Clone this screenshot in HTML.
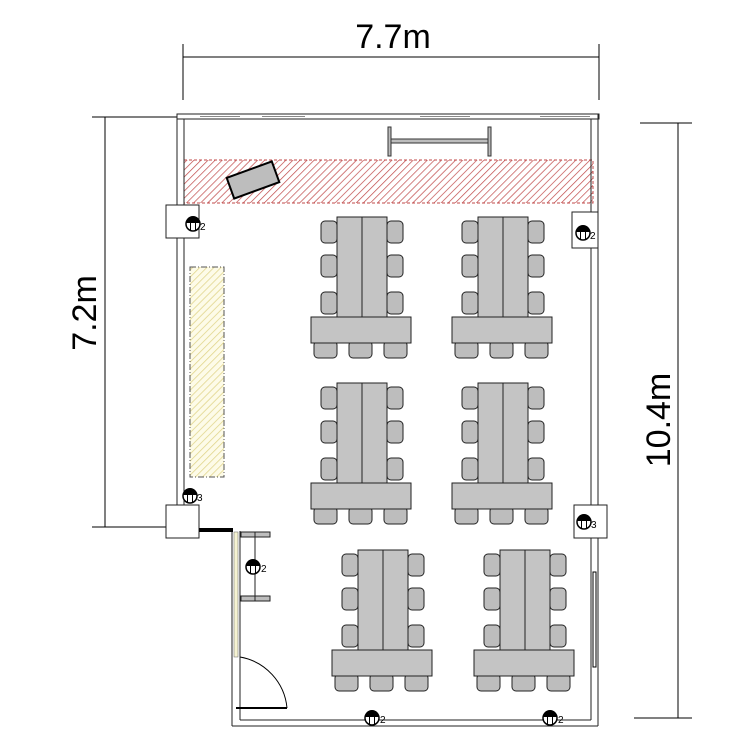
<!DOCTYPE html>
<html><head><meta charset="utf-8"><style>
html,body{margin:0;padding:0;background:#fff;width:750px;height:750px;overflow:hidden}
svg{display:block}
text{font-family:"Liberation Sans",sans-serif;fill:#000}
</style></head><body>
<svg width="750" height="750" viewBox="0 0 750 750" xmlns="http://www.w3.org/2000/svg">
<defs>
<pattern id="red" width="5" height="5" patternUnits="userSpaceOnUse" patternTransform="rotate(45)">
<rect width="5" height="5" fill="#fff"/><line x1="0" y1="0" x2="0" y2="5" stroke="#c04848" stroke-width="1.4"/></pattern>
<pattern id="yel" width="5" height="5" patternUnits="userSpaceOnUse" patternTransform="rotate(45)">
<rect width="5" height="5" fill="#fdfbe8"/><line x1="0" y1="0" x2="0" y2="5" stroke="#e0d488" stroke-width="1.5"/></pattern>
<g id="grp">
<g fill="#bdbdbd" stroke="#222" stroke-width="1">
<rect x="-16" y="4" width="16" height="22" rx="4"/><rect x="-16" y="38" width="16" height="22" rx="4"/><rect x="-16" y="75" width="16" height="22" rx="4"/>
<rect x="50" y="4" width="16" height="22" rx="4"/><rect x="50" y="38" width="16" height="22" rx="4"/><rect x="50" y="75" width="16" height="22" rx="4"/>
<rect x="-23" y="124" width="23" height="17" rx="4"/><rect x="12" y="124" width="23" height="17" rx="4"/><rect x="47" y="124" width="23" height="17" rx="4"/>
</g>
<g fill="#c4c4c4" stroke="#222" stroke-width="1">
<rect x="0" y="0" width="25" height="100"/><rect x="25" y="0" width="25" height="100"/>
<rect x="-26" y="100" width="100" height="26"/>
</g>
</g>
<g id="ol">
<circle cx="0" cy="0" r="7" fill="#fff" stroke="#000" stroke-width="1.5"/>
<path d="M-7,-1 A7,7 0 0 1 7,-1 Z" fill="#000"/>
<line x1="-2.5" y1="-4" x2="-2.5" y2="7" stroke="#000"/><line x1="2.5" y1="-4" x2="2.5" y2="7" stroke="#000"/>
</g>
</defs>

<g stroke="#000" stroke-width="1" fill="none">
<line x1="183" y1="57" x2="599" y2="57"/>
<line x1="183" y1="44" x2="183" y2="100"/><line x1="599" y1="44" x2="599" y2="100"/>
<line x1="105" y1="117" x2="105" y2="527"/>
<line x1="92" y1="117" x2="180" y2="117"/><line x1="92" y1="527" x2="168" y2="527"/>
<line x1="678" y1="123" x2="678" y2="718"/>
<line x1="640" y1="123" x2="692" y2="123"/><line x1="634" y1="718" x2="692" y2="718"/>
</g>
<text x="393" y="48" font-size="34" text-anchor="middle">7.7m</text>
<text transform="translate(96,313) rotate(-90)" font-size="34" text-anchor="middle">7.2m</text>
<text transform="translate(670,420) rotate(-90)" font-size="34" text-anchor="middle">10.4m</text>

<rect x="184" y="160" width="409" height="43" fill="url(#red)" stroke="#c04848" stroke-dasharray="3,2"/>
<rect x="190" y="267" width="34" height="210" fill="url(#yel)" stroke="#555" stroke-dasharray="6,2,1,2"/>

<g stroke="#222" stroke-width="1" fill="none">
<rect x="177" y="114" width="422" height="5" fill="#fff"/>
<line x1="177" y1="114" x2="177" y2="205"/><line x1="184" y1="119" x2="184" y2="205"/>
<line x1="177" y1="238" x2="177" y2="505"/><line x1="184" y1="238" x2="184" y2="505"/>
<line x1="591" y1="119" x2="591" y2="212"/><line x1="598" y1="114" x2="598" y2="212"/>
<line x1="591" y1="248" x2="591" y2="505"/><line x1="598" y1="248" x2="598" y2="505"/>
<line x1="591" y1="538" x2="591" y2="720"/><line x1="598" y1="538" x2="598" y2="726"/>
<line x1="232" y1="726" x2="598" y2="726"/><line x1="240" y1="720" x2="591" y2="720"/>
<line x1="232" y1="530" x2="232" y2="726"/><line x1="240" y1="531" x2="240" y2="720"/>
<rect x="166" y="205" width="33" height="33" fill="#fff"/>
<rect x="166" y="505" width="33" height="33" fill="#fff"/>
<rect x="572" y="212" width="26" height="36" fill="#fff"/>
<rect x="574" y="505" width="33" height="33" fill="#fff"/>
</g>
<g stroke="#888" stroke-width="1">
<line x1="200" y1="116.5" x2="240" y2="116.5"/><line x1="262" y1="116.5" x2="305" y2="116.5"/>
<line x1="420" y1="116.5" x2="470" y2="116.5"/><line x1="540" y1="116.5" x2="590" y2="116.5"/>
</g>
<rect x="199" y="528" width="34" height="4" fill="#000"/>
<rect x="234" y="532" width="4" height="125" fill="#f6f3d2" stroke="#666" stroke-width="0.5"/>
<rect x="593" y="572" width="3" height="95" fill="#fff" stroke="#000"/>
<g stroke="#222" fill="#bdbdbd">
<rect x="241" y="532" width="29" height="5"/><rect x="241" y="596" width="29" height="5"/>
<line x1="255" y1="532" x2="255" y2="601"/>
</g>
<g stroke="#000" fill="none">
<path d="M240,657 A57,57 0 0 1 287,708"/>
<line x1="236" y1="708" x2="287" y2="708" stroke-width="2"/>
</g>

<g stroke="#333" fill="#bdbdbd">
<rect x="388" y="127" width="3" height="29"/>
<rect x="488" y="127" width="3" height="29"/>
<rect x="391" y="139" width="97" height="4"/>
</g>
<rect x="229" y="169" width="48" height="22" fill="#bdbdbd" stroke="#000" stroke-width="2" transform="rotate(-20 253 180)"/>

<use href="#grp" x="337" y="217"/>
<use href="#grp" x="478" y="217"/>
<use href="#grp" x="337" y="383"/>
<use href="#grp" x="478" y="383"/>
<use href="#grp" x="358" y="550"/>
<use href="#grp" x="500" y="550"/>

<use href="#ol" x="193" y="224"/><text x="200" y="230" font-size="10">2</text>
<use href="#ol" x="583" y="233"/><text x="590" y="239" font-size="10">2</text>
<use href="#ol" x="190" y="496"/><text x="197" y="501" font-size="10">3</text>
<use href="#ol" x="584" y="522"/><text x="591" y="528" font-size="10">3</text>
<use href="#ol" x="253" y="567"/><text x="261" y="572" font-size="10">2</text>
<use href="#ol" x="372" y="718"/><text x="380" y="723" font-size="10">2</text>
<use href="#ol" x="550" y="718"/><text x="558" y="723" font-size="10">2</text>
</svg>
</body></html>
